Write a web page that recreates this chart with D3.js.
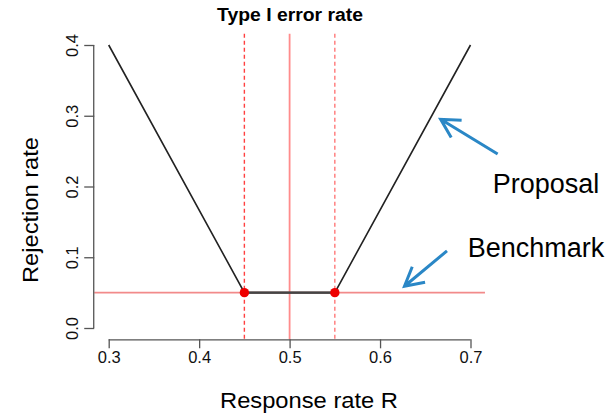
<!DOCTYPE html>
<html>
<head>
<meta charset="utf-8">
<script src="https://cdn.jsdelivr.net/npm/d3@7"></script>
<style>
  body { margin: 0; background: #fff; }
  text { font-family: "Liberation Sans", Arial, sans-serif; }
</style>
</head>
<body>
<svg width="613" height="415"></svg>
<script>
// response rate R and rejection rate of the proposal
var responseRate = [0.3, 0.45, 0.55, 0.7],
	rejectionRate = [0.4, 0.05, 0.05, 0.4];

// boundary points (red dots)
var boundaryR = [0.45, 0.55],
	boundaryRej = [0.05, 0.05];

var xTicks = [0.3, 0.4, 0.5, 0.6, 0.7],
	yTicks = [0.0, 0.1, 0.2, 0.3, 0.4];

var nullR = 0.5,
	dashedR = [0.45, 0.55],
	benchmark = 0.05;

// annotation arrows: [tipR, tipRej, tailR, tailRej]
var arrows = [
	[0.667, 0.295, 0.730, 0.246],
	[0.627, 0.059, 0.674, 0.109]
];
var labels = [
	{text: "Proposal", r: 0.7246, rej: 0.191},
	{text: "Benchmark", r: 0.697, rej: 0.100}
];

var svg = d3.select("svg");

var x = d3.scaleLinear().domain([0.3, 0.7]).range([108.7, 470.5]),
	y = d3.scaleLinear().domain([0, 0.4]).range([328, 45]);

// plot region is 4% wider than data range (R style)
var px0 = x(0.284), px1 = x(0.716),
	py0 = y(-0.016), py1 = y(0.416);

var g = svg.append("g");

// reference lines
g.append("line")
	.attr("x1", px0).attr("x2", px1)
	.attr("y1", y(benchmark)).attr("y2", y(benchmark))
	.attr("stroke", "#f28a8a").attr("stroke-width", 1.6);

g.append("line")
	.attr("x1", x(nullR)).attr("x2", x(nullR))
	.attr("y1", py1).attr("y2", py0)
	.attr("stroke", "#ff8c8c").attr("stroke-width", 1.8);

g.selectAll(".dash")
	.data(dashedR)
	.enter().append("line")
	.attr("class", "dash")
	.attr("x1", function(d) { return x(d); })
	.attr("x2", function(d) { return x(d); })
	.attr("y1", py1).attr("y2", py0)
	.attr("stroke", function(d, i) { return i == 0 ? "#ff4040" : "#ff7878"; })
	.attr("stroke-width", 1.4)
	.attr("stroke-dasharray", "4,3");

// curve
var line = d3.line()
	.x(function(d) { return x(d[0]); })
	.y(function(d) { return y(d[1]); });

g.append("path")
	.attr("d", line(d3.zip(responseRate, rejectionRate)))
	.attr("fill", "none")
	.attr("stroke", "#222")
	.attr("stroke-width", 1.6);

// flat part looks heavier in the original
g.append("path")
	.attr("d", line(d3.zip(boundaryR, boundaryRej)))
	.attr("stroke", "#444")
	.attr("stroke-width", 2.4);

g.selectAll(".dot")
	.data(d3.zip(boundaryR, boundaryRej))
	.enter().append("circle")
	.attr("class", "dot")
	.attr("cx", function(d) { return x(d[0]); })
	.attr("cy", function(d) { return y(d[1]); })
	.attr("r", 4.7)
	.attr("fill", "#ee0000");

// axes
var xAxis = svg.append("g")
	.attr("transform", "translate(0," + py0 + ")")
	.call(d3.axisBottom(x).tickValues(xTicks).tickSize(9).tickPadding(3).tickFormat(d3.format(".1f")));
xAxis.select(".domain").attr("d", "M" + x(0.3) + ",0.5H" + x(0.7));
xAxis.selectAll("text").style("font-size", "16.5px").attr("fill", "#111");

var yAxis = svg.append("g")
	.attr("transform", "translate(" + px0 + ",0)")
	.call(d3.axisLeft(y).tickValues(yTicks).tickSize(10).tickFormat(d3.format(".1f")));
yAxis.select(".domain").attr("d", "M-0.5," + y(0) + "V" + y(0.4));
yAxis.selectAll("text")
	.style("font-size", "16.5px")
	.attr("fill", "#111")
	.attr("x", null).attr("dy", null)
	.attr("text-anchor", "middle")
	.attr("transform", "translate(-16,0) rotate(-90)");

svg.selectAll(".domain, .tick line").attr("stroke", "#555").attr("stroke-width", 1.3);

// titles
svg.append("text")
	.attr("x", 290).attr("y", 21)
	.attr("text-anchor", "middle")
	.attr("font-weight", "bold")
	.attr("textLength", 146).attr("lengthAdjust", "spacingAndGlyphs")
	.style("font-size", "18px")
	.text("Type I error rate");

svg.append("text")
	.attr("x", 309).attr("y", 408)
	.attr("text-anchor", "middle")
	.attr("textLength", 178).attr("lengthAdjust", "spacingAndGlyphs")
	.style("font-size", "21.5px")
	.text("Response rate R");

svg.append("text")
	.attr("transform", "translate(38,210) rotate(-90)")
	.attr("text-anchor", "middle")
	.attr("textLength", 146).attr("lengthAdjust", "spacingAndGlyphs")
	.style("font-size", "22px")
	.text("Rejection rate");

// annotations
var blue = "#2a87c6";
arrows.forEach(function(a) {
	var tx = x(a[0]), ty = y(a[1]), sx = x(a[2]), sy = y(a[3]);
	var ang = Math.atan2(sy - ty, sx - tx), len = 21, spread = 28.5 * Math.PI / 180;
	var p = "M" + sx + "," + sy + "L" + tx + "," + ty +
		"M" + (tx + len * Math.cos(ang - spread)) + "," + (ty + len * Math.sin(ang - spread)) +
		"L" + tx + "," + ty +
		"L" + (tx + len * Math.cos(ang + spread)) + "," + (ty + len * Math.sin(ang + spread));
	svg.append("path")
		.attr("d", p)
		.attr("fill", "none")
		.attr("stroke", blue)
		.attr("stroke-width", 3);
});

svg.selectAll(".note")
	.data(labels)
	.enter().append("text")
	.attr("class", "note")
	.attr("x", function(d) { return x(d.r); })
	.attr("y", function(d) { return y(d.rej); })
	.style("font-size", "27px")
	.attr("fill", "#000")
	.text(function(d) { return d.text; });
</script>
</body>
</html>
